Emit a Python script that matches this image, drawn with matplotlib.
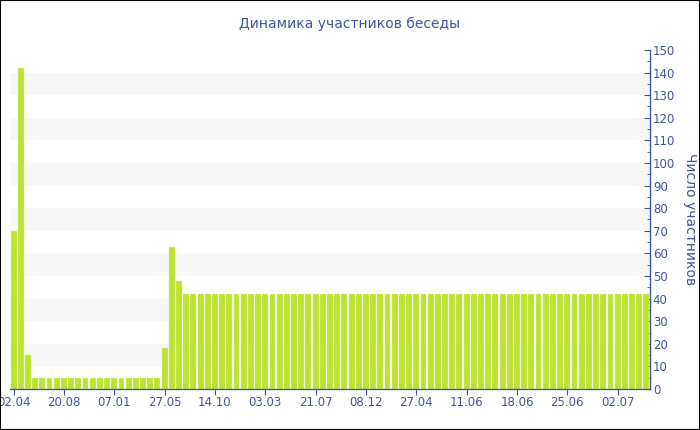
import matplotlib
matplotlib.use("Agg")
import matplotlib.pyplot as plt
from matplotlib.patches import Rectangle

# chart data
title = "Динамика участников беседы"
y_label = "Число участников"
# number of members per chat snapshot (89 snapshots)
members = [70, 142, 15,
           5, 5, 5, 5, 5, 5, 5, 5, 5, 5, 5, 5, 5, 5, 5, 5, 5, 5,
           18, 63, 48,
           42, 42, 42, 42, 42, 42, 42, 42, 42, 42, 42, 42, 42,
           42, 42, 42, 42, 42, 42, 42, 42, 42, 42, 42, 42, 42,
           42, 42, 42, 42, 42, 42, 42, 42, 42, 42, 42, 42, 42,
           42, 42, 42, 42, 42, 42, 42, 42, 42, 42, 42, 42, 42,
           42, 42, 42, 42, 42, 42, 42, 42, 42, 42, 42, 42, 42]
# date labels shown on every 7th snapshot
date_labels = ["02.04", "20.08", "07.01", "27.05", "14.10", "03.03", "21.07",
               "08.12", "27.04", "11.06", "18.06", "25.06", "02.07"]
label_step = 7

blue = "#3f55a0"
bar_color = "#bde22f"

fig = plt.figure(figsize=(7, 4.3), dpi=100)
ax = fig.add_axes([10 / 700, 41 / 430, 640 / 700, 339 / 430])

# alternating light bands every 10 units
for lo in range(10, 140, 20):
    ax.axhspan(lo, lo + 10, color="#f7f7f7", zorder=0, lw=0)

x = list(range(len(members)))
ax.bar(x, members, width=0.82, color=bar_color, edgecolor="#e2f3a6",
       linewidth=0.3, zorder=2)

ax.set_xlim(-0.5, len(members) - 0.5)
ax.set_ylim(0, 150)

ax.set_xticks(x[::label_step])
ax.set_xticklabels(date_labels)
ax.yaxis.tick_right()
ax.yaxis.set_label_position("right")
ax.set_yticks(range(0, 151, 10))
ax.set_yticks(range(0, 151, 5), minor=True)

for side in ["left", "top"]:
    ax.spines[side].set_visible(False)
for side in ["right", "bottom"]:
    ax.spines[side].set_color(blue)
    ax.spines[side].set_linewidth(1)

ax.tick_params(axis="y", which="major", direction="in", length=4,
               color=blue, labelcolor=blue, labelsize=8.5, pad=2)
ax.tick_params(axis="y", which="minor", direction="in", length=2.5,
               color=blue)
ax.tick_params(axis="x", direction="out", length=4, color=blue,
               labelcolor=blue, labelsize=8.5, pad=1)

ax.set_ylabel(y_label, rotation=270, color=blue, fontsize=10, labelpad=16)
fig.text(350 / 700, 1 - 24 / 430, title, ha="center", va="center",
         color=blue, fontsize=10)

# thin black frame around the whole image
fig.patches.append(Rectangle((0, 0), 1, 1, transform=fig.transFigure,
                             fill=False, edgecolor="black", linewidth=1.5))

fig.savefig("out.png", dpi=100)
